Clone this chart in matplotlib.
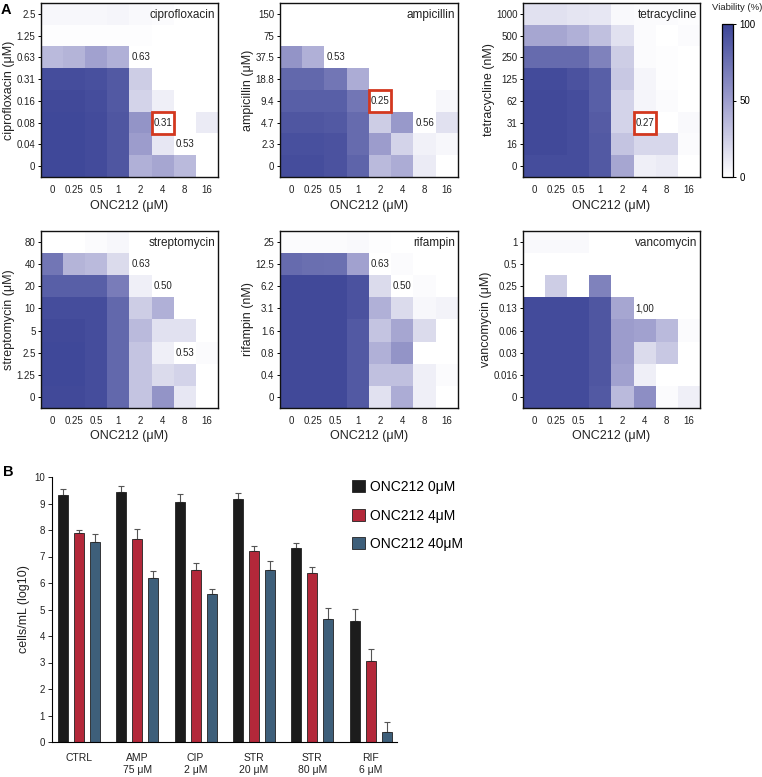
import numpy as np
import matplotlib
matplotlib.use("Agg")
import matplotlib.pyplot as plt
from matplotlib.colors import LinearSegmentedColormap
from matplotlib.patches import Rectangle, Patch

plt.rcParams['font.family'] = ['Liberation Sans', 'DejaVu Sans']

# ---------------- data: heatmaps (rows top -> bottom) ----------------
onc_ticks = ["0", "0.25", "0.5", "1", "2", "4", "8", "16"]

cip_rows = ["2.5", "1.25", "0.63", "0.31", "0.16", "0.08", "0.04", "0"]
cip_vals = [
    [4, 4, 4, 5, 3, 2, 0, 0],
    [1, 1, 1, 1, 1, 0, 0, 0],
    [35, 38, 48, 40, 0, 0, 0, 0],
    [95, 95, 93, 88, 25, 0, 0, 0],
    [97, 97, 95, 88, 22, 8, 0, 0],
    [98, 98, 96, 90, 55, 0, 0, 10],
    [98, 98, 96, 90, 50, 12, 0, 0],
    [98, 98, 96, 90, 40, 45, 35, 0],
]
amp_rows = ["150", "75", "37.5", "18.8", "9.4", "4.7", "2.3", "0"]
amp_vals = [
    [0, 0, 0, 0, 0, 0, 0, 0],
    [0, 0, 0, 0, 0, 0, 0, 0],
    [55, 40, 0, 0, 0, 0, 0, 0],
    [80, 80, 72, 42, 0, 0, 0, 0],
    [85, 85, 85, 72, 0, 0, 0, 4],
    [90, 90, 88, 78, 25, 52, 0, 15],
    [93, 93, 92, 78, 50, 22, 7, 4],
    [95, 95, 92, 82, 35, 42, 10, 0],
]
tet_rows = ["1000", "500", "250", "125", "62", "31", "16", "0"]
tet_vals = [
    [15, 15, 13, 12, 3, 2, 2, 1],
    [45, 45, 40, 32, 15, 2, 0, 2],
    [78, 78, 78, 65, 25, 2, 1, 0],
    [96, 96, 92, 85, 28, 5, 1, 0],
    [97, 97, 95, 85, 22, 5, 2, 0],
    [97, 97, 95, 87, 22, 0, 0, 3],
    [97, 97, 95, 88, 30, 20, 20, 2],
    [95, 95, 95, 88, 45, 8, 10, 0],
]
str_rows = ["80", "40", "20", "10", "5", "2.5", "1.25", "0"]
str_vals = [
    [0, 0, 2, 4, 0, 0, 0, 0],
    [72, 38, 35, 18, 0, 0, 0, 0],
    [85, 85, 85, 68, 8, 0, 0, 0],
    [95, 95, 95, 80, 25, 40, 0, 0],
    [97, 97, 95, 80, 35, 15, 15, 0],
    [98, 98, 95, 80, 30, 8, 0, 2],
    [98, 98, 95, 80, 30, 18, 22, 0],
    [97, 97, 95, 80, 30, 55, 12, 0],
]
rif_rows = ["25", "12.5", "6.2", "3.1", "1.6", "0.8", "0.4", "0"]
rif_vals = [
    [2, 2, 2, 3, 1, 0, 0, 0],
    [78, 76, 75, 48, 0, 2, 0, 0],
    [97, 97, 97, 92, 18, 0, 2, 0],
    [97, 97, 97, 92, 40, 18, 4, 6],
    [97, 97, 97, 88, 30, 45, 18, 0],
    [97, 97, 97, 88, 40, 55, 0, 0],
    [97, 97, 97, 88, 32, 32, 8, 2],
    [97, 97, 97, 88, 15, 42, 8, 0],
]
van_rows = ["1", "0.5", "0.25", "0.13", "0.06", "0.03", "0.016", "0"]
van_vals = [
    [3, 3, 3, 0, 0, 0, 0, 0],
    [0, 0, 0, 0, 0, 0, 0, 0],
    [0, 25, 0, 65, 0, 0, 0, 0],
    [96, 96, 96, 90, 45, 0, 0, 0],
    [96, 96, 96, 90, 50, 48, 35, 2],
    [96, 96, 96, 90, 50, 18, 28, 0],
    [96, 96, 96, 90, 48, 8, 0, 0],
    [96, 96, 96, 88, 35, 58, 2, 8],
]

# annotations: (row index, col index, text, boxed)
cip_ann = [(2, 4, "0.63", False), (5, 5, "0.31", True), (6, 6, "0.53", False)]
amp_ann = [(2, 2, "0.53", False), (4, 4, "0.25", True), (5, 6, "0.56", False)]
tet_ann = [(5, 5, "0.27", True)]
str_ann = [(1, 4, "0.63", False), (2, 5, "0.50", False), (5, 6, "0.53", False)]
rif_ann = [(1, 4, "0.63", False), (2, 5, "0.50", False)]
van_ann = [(3, 5, "1,00", False)]

panels = [
    ("ciprofloxacin", "ciprofloxacin (μM)", cip_rows, cip_vals, cip_ann),
    ("ampicillin", "ampicillin (μM)", amp_rows, amp_vals, amp_ann),
    ("tetracycline", "tetracycline (nM)", tet_rows, tet_vals, tet_ann),
    ("streptomycin", "streptomycin (μM)", str_rows, str_vals, str_ann),
    ("rifampin", "rifampin (nM)", rif_rows, rif_vals, rif_ann),
    ("vancomycin", "vancomycin (μM)", van_rows, van_vals, van_ann),
]

# ---------------- data: bar chart ----------------
groups = ["CTRL", "AMP\n75 μM", "CIP\n2 μM", "STR\n20 μM", "STR\n80 μM", "RIF\n6 μM"]
series_names = ["ONC212 0μM", "ONC212 4μM", "ONC212 40μM"]
onc0 = [9.32, 9.42, 9.07, 9.18, 7.32, 4.57]
onc4 = [7.89, 7.65, 6.50, 7.20, 6.37, 3.05]
onc40 = [7.55, 6.20, 5.60, 6.50, 4.65, 0.37]
onc0_err = [0.23, 0.25, 0.29, 0.22, 0.20, 0.44]
onc4_err = [0.10, 0.37, 0.25, 0.20, 0.23, 0.45]
onc40_err = [0.30, 0.25, 0.17, 0.32, 0.42, 0.38]
bar_colors = ["#1c1c1c", "#b3283a", "#3e5f7a"]

# ---------------- figure ----------------
W, H = 762, 777
fig = plt.figure(figsize=(W / 100, H / 100), dpi=100)

cmap = LinearSegmentedColormap.from_list("viab", ["#ffffff", "#9d9dcd", "#3c4597"])

def px_axes(x0, y0, x1, y1):
    return fig.add_axes([x0 / W, 1 - y1 / H, (x1 - x0) / W, (y1 - y0) / H])

xs = [(41, 218), (280, 458), (523, 700)]
ys = [(3, 177), (231, 408)]
TXT = "#222222"

im = None
for i, (title, ylab, rows, vals, anns) in enumerate(panels):
    x0, x1 = xs[i % 3]
    y0, y1 = ys[i // 3]
    ax = px_axes(x0, y0, x1, y1)
    data = np.array(vals, dtype=float)
    im = ax.imshow(data, cmap=cmap, vmin=0, vmax=100, aspect="auto",
                   interpolation="nearest")
    ax.set_xticks(range(len(onc_ticks)))
    ax.set_xticklabels(onc_ticks, fontsize=7, color=TXT)
    ax.set_yticks(range(len(rows)))
    ax.set_yticklabels(rows, fontsize=7, color=TXT)
    ax.tick_params(axis="y", length=2.5, width=0.7, pad=1.5)
    ax.tick_params(axis="x", length=0, pad=6)
    ax.set_xlabel("ONC212 (μM)", fontsize=9, labelpad=3, color=TXT)
    ax.set_ylabel(ylab, fontsize=9, labelpad=1, color=TXT)
    for sp in ax.spines.values():
        sp.set_linewidth(1.0)
        sp.set_color("#111111")
    ax.text(0.985, 0.965, title, transform=ax.transAxes, ha="right", va="top",
            fontsize=8.5, color=TXT)
    for r, c, txt, boxed in anns:
        ax.text(c, r, txt, ha="center", va="center", fontsize=7, color=TXT)
        if boxed:
            ax.add_patch(Rectangle((c - 0.5, r - 0.5), 1, 1, fill=False,
                                   edgecolor="#d3381f", linewidth=2.0, zorder=5))

# colorbar
cax = px_axes(722, 24, 733, 177)
cb = fig.colorbar(im, cax=cax, ticks=[0, 50, 100])
cb.ax.tick_params(labelsize=7, length=2.5, width=0.7, pad=2)
cb.outline.set_linewidth(0.9)
fig.text(737 / W, 1 - 8 / H, "Viability (%)", ha="center", va="center", fontsize=6.8,
         color=TXT)

# panel letters
fig.text(6 / W, 1 - 10 / H, "A", fontsize=10.5, fontweight="bold", ha="center", va="center")
fig.text(8 / W, 1 - 472 / H, "B", fontsize=10.5, fontweight="bold", ha="center", va="center")

# ---------------- bar chart ----------------
bx = px_axes(52, 477, 397, 742)
x = np.arange(len(groups))
width = 0.17
offset = 0.275
for k, (vals, errs) in enumerate([(onc0, onc0_err), (onc4, onc4_err), (onc40, onc40_err)]):
    pos = x + (k - 1) * offset
    bx.bar(pos, vals, width=width, color=bar_colors[k], edgecolor="#222222",
           linewidth=0.6, label=series_names[k], zorder=2)
    bx.errorbar(pos, vals, yerr=[np.zeros(len(vals)), errs], fmt="none",
                ecolor="#555555", elinewidth=0.8, capsize=2.5, capthick=0.8, zorder=1)
bx.set_xlim(-0.46, 5.45)
bx.set_ylim(0, 10)
bx.set_yticks(range(0, 11))
bx.tick_params(axis="y", labelsize=7, length=3, width=0.7, pad=2, colors=TXT)
bx.set_xticks(x)
bx.set_xticklabels(groups, fontsize=7.5, color=TXT)
bx.tick_params(axis="x", length=0, pad=8)
bx.spines["top"].set_visible(False)
bx.spines["right"].set_visible(False)
bx.spines["left"].set_linewidth(0.8)
bx.spines["bottom"].set_linewidth(0.8)
bx.set_ylabel("cells/mL (log10)", fontsize=9, labelpad=3, color=TXT)

handles = [Patch(facecolor=c, edgecolor="#222222", linewidth=0.6) for c in bar_colors]
fig.legend(handles, series_names, loc="upper left", bbox_to_anchor=(352 / W, 1 - 480 / H),
           frameon=False, fontsize=10, handlelength=0.95, handleheight=0.95,
           labelspacing=1.05, handletextpad=0.35, borderaxespad=0, borderpad=0)

fig.savefig("out.png", dpi=100)
